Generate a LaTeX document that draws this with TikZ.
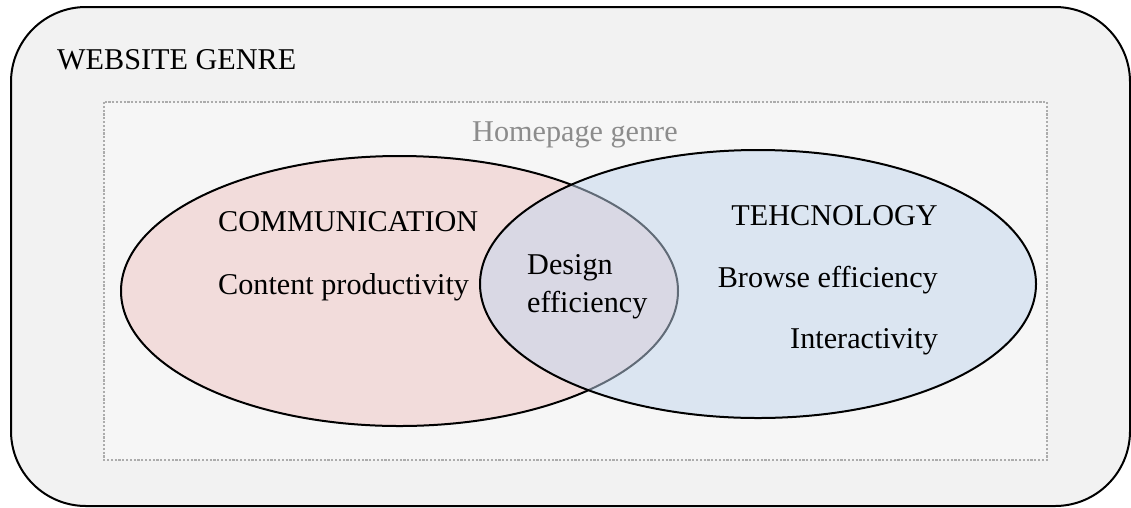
\documentclass[tikz,border=0pt]{standalone}
\usepackage{fontspec}
\setmainfont{Liberation Serif}
\begin{document}
\definecolor{outerfill}{RGB}{242,242,242}
\definecolor{innerfill}{RGB}{246,246,246}
\definecolor{dotgray}{RGB}{172,172,172}
\definecolor{commfill}{RGB}{242,220,219}
\definecolor{techfill}{RGB}{194,214,238}
\definecolor{labelgray}{RGB}{140,140,140}
\begin{tikzpicture}[x=1pt,y=-1pt,
  lbl/.style={inner sep=0pt,font=\fontsize{30.2}{35}\selectfont},
  genre/.style={draw=black,line width=2pt,fill=outerfill,rounded corners=75pt},
  scopebox/.style={draw=dotgray,line width=2.2pt,dash pattern=on 2.2pt off 1.6pt,fill=innerfill},
  circ/.style={draw=black,line width=2pt}]
\useasboundingbox (0,0) rectangle (1131,507);
% outer genre frame
\draw[genre] (11,7) rectangle (1130,506);
% homepage region
\draw[scopebox] (104,102) rectangle (1047,460);
% two overlapping domains
\draw[circ,fill=commfill] (399.5,291) ellipse [x radius=278.5, y radius=135];
\draw[circ,fill=techfill,fill opacity=0.5] (758,284) ellipse [x radius=278, y radius=134];
% labels
\node[lbl,anchor=base west] (web) at (57,69) {WEBSITE GENRE};
\node[lbl,anchor=base west,text=labelgray] (home) at (472,141) {Homepage genre};
\node[lbl,anchor=base west] (comm) at (218,231) {COMMUNICATION};
\node[lbl,anchor=base west] (cont) at (218,294) {Content productivity};
\node[lbl,anchor=base west] (des1) at (527,274) {Design};
\node[lbl,anchor=base west] (des2) at (527,312) {efficiency};
\node[lbl,anchor=base east] (tech) at (938,225) {TEHCNOLOGY};
\node[lbl,anchor=base east] (brow) at (938,287) {Browse efficiency};
\node[lbl,anchor=base east] (inter) at (938,348) {Interactivity};
\end{tikzpicture}
\end{document}
